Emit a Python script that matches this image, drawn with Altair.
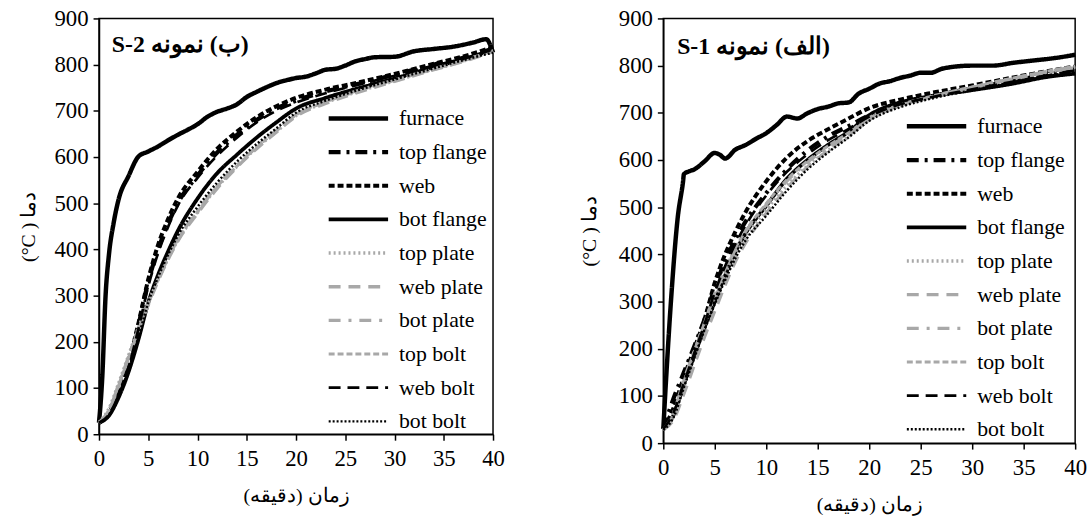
import altair as alt
import pandas as pd

SERIES = ["furnace", "top flange", "web", "bot flange", "top plate",
          "web plate", "bot plate", "top bolt", "web bolt", "bot bolt"]
COLORS = ["#000000", "#000000", "#000000", "#000000", "#a8a8a8",
          "#a8a8a8", "#a8a8a8", "#a8a8a8", "#000000", "#000000"]
DASHES = [[1, 0], [12, 6, 3, 6], [6, 3], [1, 0], [2, 3],
          [12, 8], [12, 8, 3, 8], [6, 3], [12, 7], [2, 2]]
WIDTHS = [4.5, 2.5, 2.5, 2, 2, 3, 3, 3, 3, 2]

# ---------- S-2 (left panel) ----------
S2_FURNACE_T = [0, 0.33, 0.67, 1, 1.5, 2, 3, 4, 5, 6, 7, 8, 9, 10, 11, 12, 13, 14, 15,
                16, 17, 18, 19, 20, 21, 22, 23, 24, 25, 26, 27, 28, 30, 32, 34, 36,
                38, 39.3, 40]
S2_FURNACE = [25, 123, 301, 387, 459, 509, 559, 601, 612, 623, 636, 648, 659, 671,
              687, 698, 705, 714, 730, 741, 751, 760, 766, 771, 774, 781, 789, 791,
              798, 807, 812, 816, 817, 829, 834, 839, 848, 855, 826]
S2_T = [0, 1, 2, 3, 4, 5, 6, 7, 8, 10, 12, 14, 16, 18, 20, 23, 26, 30, 34, 37, 40]
S2 = {
    "top flange": [25, 45, 90, 150, 235, 330, 400, 455, 500, 560, 610, 648, 680, 705, 722, 742, 757, 778, 800, 815, 835],
    "web":        [25, 45, 92, 155, 240, 335, 410, 465, 510, 568, 618, 655, 686, 710, 728, 746, 760, 780, 802, 818, 838],
    "bot flange": [25, 40, 80, 135, 205, 285, 345, 395, 440, 510, 565, 605, 642, 675, 705, 728, 747, 770, 795, 812, 832],
    "top plate":  [25, 55, 110, 170, 230, 285, 335, 380, 420, 480, 535, 580, 620, 655, 690, 718, 740, 765, 790, 808, 830],
    "web plate":  [25, 50, 105, 165, 225, 280, 332, 378, 418, 478, 532, 578, 618, 654, 688, 716, 738, 764, 789, 807, 828],
    "bot plate":  [25, 52, 108, 168, 228, 283, 336, 382, 422, 483, 538, 582, 622, 658, 692, 720, 742, 767, 791, 809, 831],
    "top bolt":   [25, 53, 107, 166, 226, 282, 334, 380, 421, 481, 536, 580, 621, 656, 691, 719, 741, 766, 790, 808, 830],
    "web bolt":   [25, 42, 85, 145, 228, 320, 392, 448, 495, 555, 603, 642, 675, 700, 718, 738, 755, 776, 798, 813, 833],
    "bot bolt":   [25, 40, 82, 140, 210, 285, 340, 388, 430, 492, 545, 590, 628, 662, 696, 722, 743, 768, 792, 810, 826],
}

# ---------- S-1 (right panel) ----------
S1_FURNACE_T = [0, 0.25, 0.75, 1.4, 1.92, 2, 2.5, 3, 4, 5, 5.5, 6, 7, 8, 9, 10, 11, 12,
                13, 14, 15, 16, 17, 18, 19, 20, 21, 22, 23, 24, 25, 26, 27, 28, 30,
                32, 34, 36, 38, 40]
S1_FURNACE = [30, 128, 303, 478, 555, 570, 576, 580, 597, 615, 611, 603, 622, 632, 645,
              657, 674, 692, 688, 699, 708, 713, 720, 722, 741, 751, 762, 767, 774,
              779, 785, 785, 793, 797, 800, 800, 806, 811, 816, 823]
S1_T = [0, 1, 2, 3, 4, 5, 6, 7, 8, 10, 12, 14, 16, 18, 20, 23, 26, 30, 34, 37, 40]
S1 = {
    "top flange": [30, 95, 150, 205, 262, 330, 385, 432, 470, 530, 580, 620, 650, 672, 695, 720, 735, 752, 768, 780, 792],
    "web":        [30, 75, 140, 200, 262, 340, 400, 448, 490, 555, 605, 640, 665, 688, 710, 728, 742, 758, 775, 787, 798],
    "bot flange": [30, 60, 125, 185, 245, 300, 355, 405, 445, 503, 560, 600, 632, 660, 695, 722, 735, 748, 762, 775, 783],
    "top plate":  [28, 60, 125, 190, 250, 305, 355, 398, 435, 495, 545, 587, 620, 650, 685, 715, 732, 752, 772, 785, 797],
    "web plate":  [28, 50, 105, 165, 225, 280, 335, 385, 425, 487, 540, 585, 620, 652, 685, 715, 733, 753, 773, 786, 798],
    "bot plate":  [28, 65, 135, 195, 255, 315, 365, 410, 448, 505, 555, 595, 627, 655, 688, 716, 734, 754, 772, 785, 796],
    "top bolt":   [28, 62, 130, 195, 255, 318, 368, 413, 450, 508, 558, 598, 630, 658, 690, 717, 735, 755, 774, 787, 799],
    "web bolt":   [30, 65, 128, 190, 252, 320, 375, 422, 462, 525, 575, 612, 642, 666, 692, 718, 733, 750, 766, 778, 790],
    "bot bolt":   [28, 55, 118, 180, 240, 295, 345, 392, 430, 482, 535, 580, 616, 648, 683, 712, 730, 748, 765, 777, 787],
}

X_TICKS = [0, 5, 10, 15, 20, 25, 30, 35, 40]
Y_TICKS = [0, 100, 200, 300, 400, 500, 600, 700, 800, 900]
X_TITLE = "\u202Bزمان (دقیقه)\u202C"
Y_TITLE = "(°C ) دما"
TITLE_S2 = "\u202B(ب) نمونه S-2\u202C"
TITLE_S1 = "\u202B(الف) نمونه S-1\u202C"
FONT = "serif"
LEG_SYMBOL = "M-5,0H5"   # drawn 60 px long at symbolSize 144


def build_df(f_t, f_v, t, series):
    rows = [{"t": a, "T": b, "series": "furnace"} for a, b in zip(f_t, f_v)]
    for name, vals in series.items():
        rows += [{"t": a, "T": b, "series": name} for a, b in zip(t, vals)]
    return pd.DataFrame(rows)


def legend(lx, ly):
    return alt.Legend(title=None, orient="none", legendX=lx, legendY=ly, padding=0,
                      symbolType=LEG_SYMBOL, symbolSize=144, symbolFillColor="transparent",
                      labelFontSize=22, labelFont=FONT, labelColor="black",
                      labelOffset=30, rowPadding=12)


def axis(values, title, tp, lp):
    return alt.Axis(values=values, title=title, titlePadding=tp, labelPadding=lp,
                    labelFont=FONT, labelFontSize=23, labelColor="black",
                    titleFont=FONT, titleFontSize=20, titleFontWeight="normal",
                    titleColor="black")


def panel(df, title, w, h, lx, ly, tx, ty, ytp):
    base = alt.Chart(df)
    lines = base.mark_line(interpolate="monotone").encode(
        x=alt.X("t:Q", scale=alt.Scale(domain=[0, 40], nice=False),
                axis=axis(X_TICKS, X_TITLE, 15, 8)),
        y=alt.Y("T:Q", scale=alt.Scale(domain=[0, 900], nice=False),
                axis=axis(Y_TICKS, Y_TITLE, ytp, 5)),
        color=alt.Color("series:N", scale=alt.Scale(domain=SERIES, range=COLORS),
                        legend=legend(lx, ly)),
        strokeDash=alt.StrokeDash("series:N", scale=alt.Scale(domain=SERIES, range=DASHES),
                                  legend=legend(lx, ly)),
        strokeWidth=alt.StrokeWidth("series:N", scale=alt.Scale(domain=SERIES, range=WIDTHS),
                                    legend=legend(lx, ly)),
        detail="series:N",
        order=alt.Order("t:Q"),
    )
    label = alt.Chart(pd.DataFrame({"txt": [title]})).mark_text(
        align="left", baseline="middle", fontSize=24, fontWeight="bold", font=FONT,
        color="black").encode(text="txt:N", x=alt.value(tx), y=alt.value(ty))
    return alt.layer(lines, label).properties(width=w, height=h).resolve_scale(
        color="independent", strokeDash="independent", strokeWidth="independent")


left = panel(build_df(S2_FURNACE_T, S2_FURNACE, S2_T, S2), TITLE_S2, 398, 420,
             227 + 24, 90, 13, 27, 16)
right = panel(build_df(S1_FURNACE_T, S1_FURNACE, S1_T, S1), TITLE_S1, 416, 429,
              241 + 24, 98, 14, 29, 19)

chart = alt.hconcat(left, right, spacing=73).resolve_scale(
    color="independent", strokeDash="independent", strokeWidth="independent"
).resolve_legend(
    color="independent", strokeDash="independent", strokeWidth="independent"
).configure(
    font=FONT, padding={"left": 17, "top": 4, "right": 2, "bottom": 2}
).configure_view(
    stroke="black", strokeWidth=1.5
).configure_axis(
    grid=False, domainColor="black", domainWidth=1.5, tickColor="black", tickWidth=1.5,
    tickSize=6, labelFont=FONT, labelFontSize=23, labelColor="black",
    titleFont=FONT, titleFontSize=20, titleFontWeight="normal", titleColor="black"
).configure_axisX(labelFlush=False)

chart.save("out.html", embed_options={"renderer": "svg", "actions": False})
